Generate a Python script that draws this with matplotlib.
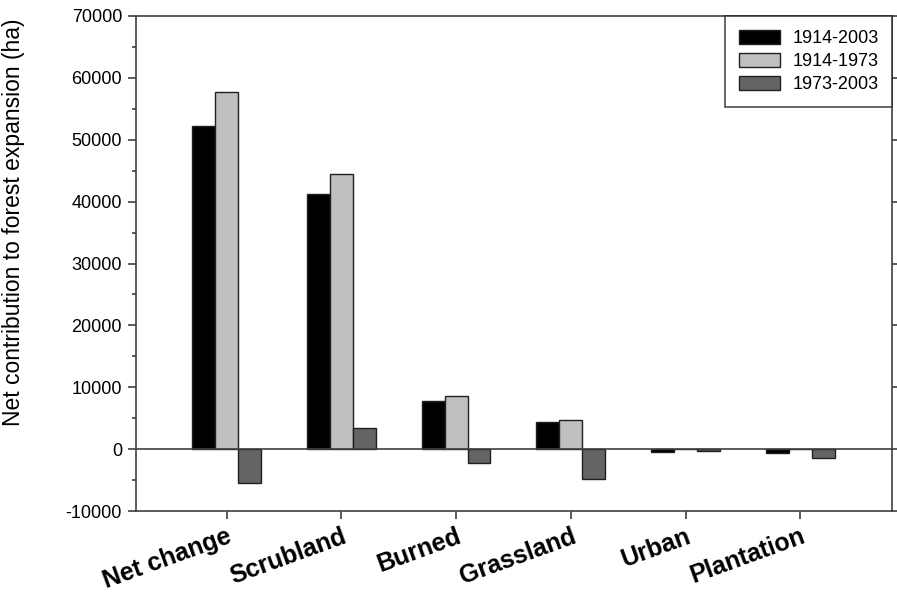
import numpy as np
import matplotlib
matplotlib.use('Agg')
import matplotlib.pyplot as plt
from matplotlib.ticker import MultipleLocator

plt.rcParams['font.family'] = ['Liberation Sans', 'DejaVu Sans']
plt.rcParams['axes.unicode_minus'] = False

# ── data ──────────────────────────────────────────────────────────────────
categories = ['Net change', 'Scrubland', 'Burned', 'Grassland', 'Urban', 'Plantation']
series_names = ['1914-2003', '1914-1973', '1973-2003']
v_1914_2003 = [52300, 41300, 7700, 4400, -400, -700]
v_1914_1973 = [57700, 44500, 8600, 4700, 0, 0]
v_1973_2003 = [-5500, 3400, -2300, -4900, -300, -1400]
colors = ['#000000', '#c0c0c0', '#646464']

# ── figure ────────────────────────────────────────────────────────────────
fig = plt.figure(figsize=(8.97, 6.01), dpi=100)
ax = fig.add_axes([136/897, 1 - 511/601, (892 - 136)/897, (511 - 16)/601])

x = np.arange(len(categories))
w = 0.2
for i, (vals, name, c) in enumerate(zip([v_1914_2003, v_1914_1973, v_1973_2003],
                                        series_names, colors)):
    ax.bar(x + (i - 1) * w, vals, width=w, color=c, edgecolor='#202020',
           linewidth=1, label=name, zorder=2)

ax.axhline(0, color='#404040', lw=1.2, zorder=3)

ax.set_xlim(-0.79, 5.80)
ax.set_ylim(-10000, 70000)
ax.yaxis.set_major_locator(MultipleLocator(10000))
ax.yaxis.set_minor_locator(MultipleLocator(5000))

for s in ax.spines.values():
    s.set_color('#404040')
    s.set_linewidth(1.2)

ax.tick_params(axis='y', which='major', direction='out', length=6, width=1.2,
               color='#404040', labelsize=13, right=True, pad=4)
ax.tick_params(axis='y', which='minor', direction='out', length=3, width=1.2,
               color='#404040', right=False)
ax.tick_params(axis='x', direction='out', length=6, width=1.2, color='#404040')

ax.set_xticks(x)
ax.set_xticklabels(categories, rotation=20, ha='right', rotation_mode='anchor',
                   fontsize=18, fontweight='bold')
ax.set_ylabel('Net contribution to forest expansion (ha)', fontsize=16.5)
ax.yaxis.set_label_coords(-0.147, 0.584)

leg = ax.legend(loc='upper right', bbox_to_anchor=(1.0, 1.0), fontsize=13,
                frameon=True, fancybox=False, borderaxespad=0,
                handlelength=2.3, handleheight=0.85, handletextpad=0.65,
                labelspacing=0.32, borderpad=0.75)
leg.get_frame().set_edgecolor('#202020')
leg.get_frame().set_linewidth(1.2)
for p in leg.get_patches():
    p.set_edgecolor('#202020')

fig.savefig('out.png', dpi=100)
